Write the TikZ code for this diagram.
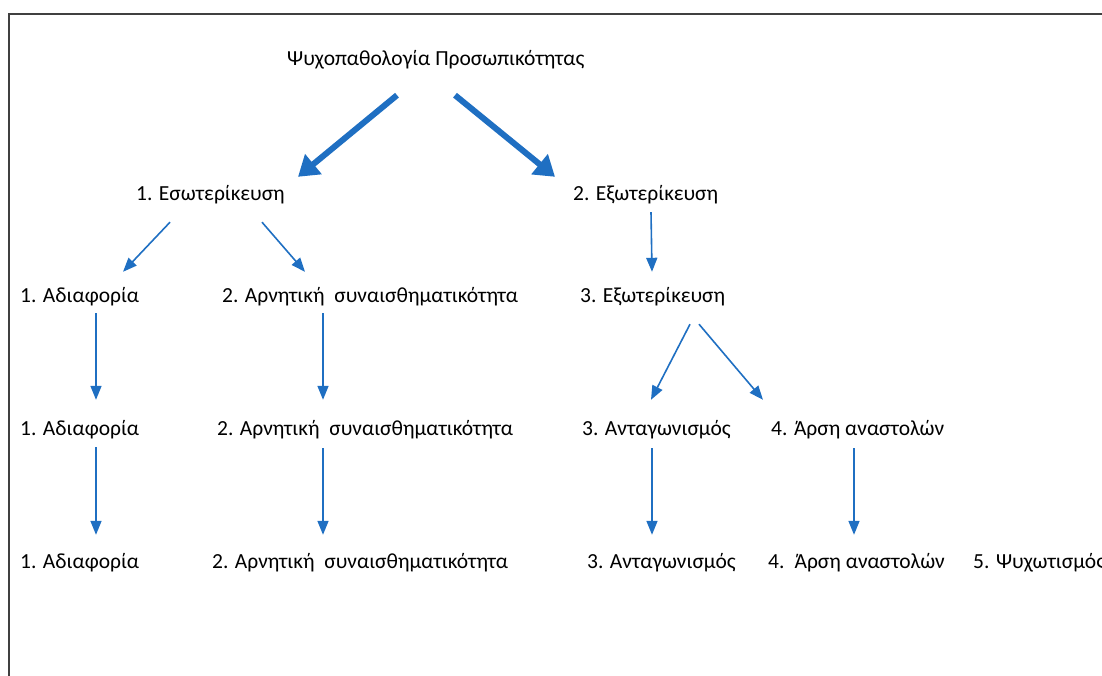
\documentclass[tikz,border=0pt]{standalone}
\usepackage{fontspec}
\setmainfont{Carlito}
\usetikzlibrary{arrows.meta}
\definecolor{linkblue}{HTML}{1F6FC2}
\tikzset{
  lbl/.style={draw=none, anchor=west, inner sep=0pt, text height=15pt, text depth=5pt,
    font=\fontsize{21.5}{25}\selectfont},
  link/.style={draw=linkblue, line width=1.6pt, -{Triangle[length=14pt,width=11pt]}},
  biglink/.style={draw=linkblue, line width=6pt, -{Triangle[length=20pt,width=25pt]}}
}
\begin{document}
\begin{tikzpicture}[x=1pt,y=-1pt]
    \useasboundingbox (0,0) rectangle (1102,675);
    \draw[line width=2pt, black!75] (9,690) -- (9,14) -- (1120,14);

    \node[lbl] (root) at (287,60) {Ψυχοπαθολογία Προσωπικότητας};
    \node[lbl] (ins) at (136,195) {1. Εσωτερίκευση};
    \node[lbl] (ext) at (573,195) {2. Εξωτερίκευση};

    \node[lbl] (ad1) at (20,297) {1. Αδιαφορία};
    \node[lbl] (ne1) at (222,297) {2. Αρνητική~ συναισθηματικότητα};
    \node[lbl] (ex3) at (580,297) {3. Εξωτερίκευση};

    \node[lbl] (ad2) at (20,430) {1. Αδιαφορία};
    \node[lbl] (ne2) at (217,430) {2. Αρνητική~ συναισθηματικότητα};
    \node[lbl] (an2) at (582,430) {3. Ανταγωνισμός};
    \node[lbl] (ar2) at (771,430) {4. Άρση αναστολών};

    \node[lbl] (ad3) at (20,563) {1. Αδιαφορία};
    \node[lbl] (ne3) at (212,563) {2. Αρνητική~ συναισθηματικότητα};
    \node[lbl] (an3) at (587,563) {3. Ανταγωνισμός};
    \node[lbl] (ar3) at (768,563) {4.\, Άρση αναστολών};
    \node[lbl] (ps3) at (973,563) {5. Ψυχωτισμός};

    % top level
    \draw[biglink] ([xshift=110pt,yshift=-25pt]root.south west) -- ([xshift=162pt,yshift=8pt]ins.north west);
    \draw[biglink] ([xshift=168pt,yshift=-25pt]root.south west) -- ([xshift=-18pt,yshift=8pt]ext.north west);

    \draw[link] ([xshift=34pt,yshift=-17pt]ins.south west) -- ([xshift=103pt,yshift=15pt]ad1.north west);
    \draw[link] ([xshift=126pt,yshift=-17pt]ins.south west) -- ([xshift=83pt,yshift=15pt]ne1.north west);
    \draw[link] ([xshift=78pt,yshift=-7pt]ext.south west) -- ([xshift=72pt,yshift=15pt]ex3.north west);

    \draw[link] ([xshift=76pt,yshift=-6pt]ad1.south west) -- ([xshift=76pt,yshift=20pt]ad2.north west);
    \draw[link] ([xshift=101pt,yshift=-6pt]ne1.south west) -- ([xshift=106pt,yshift=20pt]ne2.north west);
    \draw[link] ([xshift=110pt,yshift=-17pt]ex3.south west) -- ([xshift=69pt,yshift=20pt]an2.north west);
    \draw[link] ([xshift=119pt,yshift=-17pt]ex3.south west) -- ([xshift=-8pt,yshift=20pt]ar2.north west);

    \draw[link] ([xshift=76pt,yshift=-7pt]ad2.south west) -- ([xshift=76pt,yshift=18pt]ad3.north west);
    \draw[link] ([xshift=106pt,yshift=-8pt]ne2.south west) -- ([xshift=111pt,yshift=18pt]ne3.north west);
    \draw[link] ([xshift=70pt,yshift=-8pt]an2.south west) -- ([xshift=65pt,yshift=18pt]an3.north west);
    \draw[link] ([xshift=83pt,yshift=-8pt]ar2.south west) -- ([xshift=86pt,yshift=18pt]ar3.north west);
\end{tikzpicture}
\end{document}
